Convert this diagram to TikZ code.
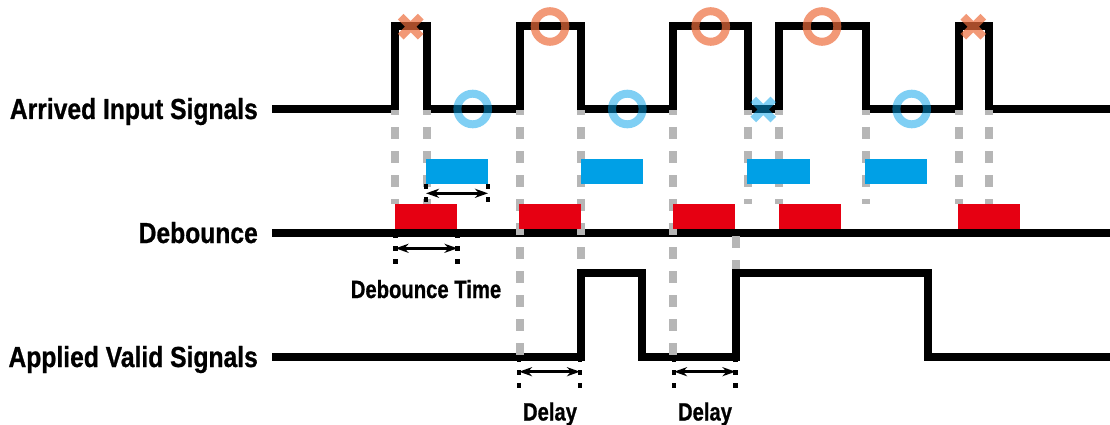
\documentclass[tikz,border=0pt]{standalone}
\usepackage{fontspec}
\setmainfont{Liberation Sans}
\newfontfamily\biglbl[FakeStretch=0.85,FakeBold=0.8]{Liberation Sans}
\newfontfamily\smalllbl[FakeStretch=0.81,FakeBold=0.8]{Liberation Sans}
\usetikzlibrary{arrows.meta}
\definecolor{sigblue}{RGB}{0,160,230}
\definecolor{sigred}{RGB}{230,0,18}
\definecolor{guide}{RGB}{182,182,182}
\definecolor{mkorange}{RGB}{237,109,61}
\definecolor{mkblue}{RGB}{0,160,233}
\tikzset{
  signal/.style={line width=8pt, line join=miter, draw=black},
  guideline/.style={draw=guide, line width=8pt, dash pattern=on 12pt off 12pt, dash phase=7pt},
  bluebox/.style={fill=sigblue, draw=none},
  redbox/.style={fill=sigred, draw=none},
  okmark/.style={line width=8pt, draw opacity=0.7},
  ngmark/.style={line width=8pt, draw opacity=0.7},
  dotmark/.style={draw=black, line width=4.5pt, dash pattern=on 4.5pt off 8.5pt},
  spanarrow/.style={draw=black, line width=3.5pt, {Stealth[length=13pt,width=9pt,inset=4pt]}-{Stealth[length=13pt,width=9pt,inset=4pt]}},
  biglabel/.style={inner sep=0pt, anchor=base east, font=\biglbl\bfseries\fontsize{29}{30}\selectfont},
  smalllabel/.style={inner sep=0pt, anchor=base, font=\smalllbl\bfseries\fontsize{25}{26}\selectfont}
}
\begin{document}
\begin{tikzpicture}[x=1pt,y=-1pt]
\useasboundingbox (0,0) rectangle (1110,425);

% labels
\node[biglabel] (lin) at (258,119) {Arrived Input Signals};
\node[biglabel] (ldb) at (258,243) {Debounce};
\node[biglabel] (lout) at (258,367) {Applied Valid Signals};
\node[smalllabel] (ldt) at (426,298) {Debounce Time};
\node[smalllabel] (ld1) at (550,420.5) {Delay};
\node[smalllabel] (ld2) at (705,420.5) {Delay};

% signals
\draw[signal] (272,109) -- (395,109) -- (395,26.5) -- (426.5,26.5) -- (426.5,109)
  -- (520,109) -- (520,26.5) -- (581,26.5) -- (581,109)
  -- (673,109) -- (673,26.5) -- (747.5,26.5) -- (747.5,109)
  -- (778.5,109) -- (778.5,26.5) -- (865.5,26.5) -- (865.5,109)
  -- (958.5,109) -- (958.5,26.5) -- (988.5,26.5) -- (988.5,109) -- (1110,109);
\draw[signal] (272,233) -- (1110,233);
\draw[signal] (272,357) -- (581,357) -- (581,273) -- (642,273) -- (642,357)
  -- (736,357) -- (736,273) -- (927.5,273) -- (927.5,357) -- (1110,357);

% guide lines
\foreach \x in {395, 426.5, 747.5, 778.5, 865.5, 958.5, 988.5}
  \draw[guideline] (\x,110) -- (\x,204);
\draw[guideline] (520,110) -- (520,357);
\draw[guideline] (673,110) -- (673,357);
\draw[guideline] (581,110) -- (581,269);
\draw[guideline, dash phase=0pt] (736,236) -- (736,269);

% blue and red boxes
\foreach \a/\b in {426/488, 581/643, 747/810, 865/927}
  \fill[bluebox] (\a,159) rectangle (\b,184);
\foreach \a/\b in {395/457, 519/581, 673/735, 779/841, 958/1020}
  \fill[redbox] (\a,204) rectangle (\b,229);

% span marks
\coordinate (b1) at (426,193.3);  \coordinate (b2) at (488,193.3);
\draw[dotmark] (426,184) -- (426,203);
\draw[dotmark] (488,184) -- (488,203);
\draw[spanarrow] (b1) -- (b2);

\coordinate (t1) at (395.5,248.3); \coordinate (t2) at (457.5,248.3);
\draw[dotmark] (395.5,233) -- (395.5,264);
\draw[dotmark] (457.5,233) -- (457.5,264);
\draw[spanarrow] (t1) -- (t2);

\coordinate (d1) at (519,371.7); \coordinate (d2) at (580,371.7);
\draw[dotmark] (519,357) -- (519,388);
\draw[dotmark] (580,357) -- (580,388);
\draw[spanarrow] (d1) -- (d2);

\coordinate (e1) at (674,371.7); \coordinate (e2) at (735.5,371.7);
\draw[dotmark] (674,357) -- (674,388);
\draw[dotmark] (735.5,357) -- (735.5,388);
\draw[spanarrow] (e1) -- (e2);

% markers
\foreach \x in {550, 710.7, 822}
  \draw[okmark, draw=mkorange] (\x,26.5) circle (15.3);
\foreach \x in {472.7, 627.3, 911.7}
  \draw[okmark, draw=mkblue, draw opacity=0.5] (\x,109) circle (15.3);
\foreach \x in {410.7, 973.3}
  \draw[ngmark, draw=mkorange] (\x,26.7) ++(-10,-10) -- ++(20,20) ++(0,-20) -- ++(-20,20);
\draw[ngmark, draw=mkblue, draw opacity=0.5] (763.3,109.5) ++(-10,-10) -- ++(20,20) ++(0,-20) -- ++(-20,20);
\end{tikzpicture}
\end{document}
